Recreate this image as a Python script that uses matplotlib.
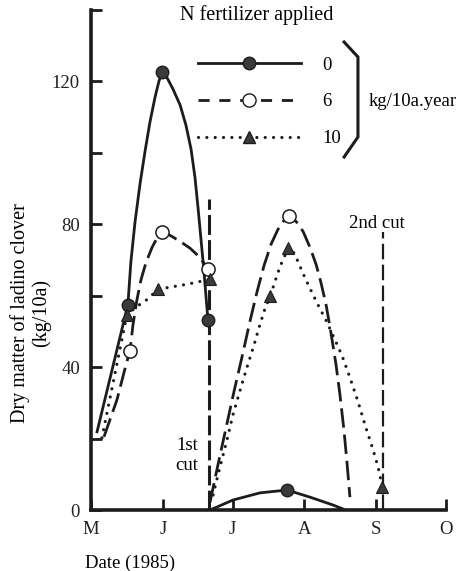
import matplotlib.pyplot as plt
from matplotlib.lines import Line2D

plt.rcParams["font.family"] = ["Liberation Serif", "DejaVu Serif"]
plt.rcParams["font.size"] = 13.5

# x axis: days counted from 1 May 1985
month_days = [0, 31, 61, 92, 123, 153]
month_labels = ["M", "J", "J", "A", "S", "O"]
dm_ticks = [0, 20, 40, 60, 80, 100, 120, 140]
dm_labels = ["0", "", "40", "", "80", "", "120", ""]

# cutting dates and the height of the cut markers
cut_days = [50.9, 125.9]
cut_tops = [87.0, 77.8]

# N = 0 kg/10a.year  (regrowth traced before and after the 1st cut)
n0_trace1_days = [2.6, 15.9, 17.2, 19.0, 21.1, 23.3, 25.4, 27.6, 29.3, 30.6,
                  32.8, 35.3, 38.4, 40.9, 43.1, 44.8, 46.1, 47.4, 48.7, 49.6, 50.4]
n0_trace1_dm = [21.9, 57.5, 69.6, 80.8, 91.2, 100.5, 108.6, 115.6, 120.1, 122.7,
                121.0, 117.9, 113.4, 107.8, 101.1, 93.2, 84.8, 75.8, 66.8, 59.5, 53.3]
n0_trace2_days = [51.3, 61.2, 72.8, 84.5, 94.4, 104.3, 108.6]
n0_trace2_dm = [0.0, 2.8, 4.8, 5.6, 3.6, 1.4, 0.3]
n0_obs_days = [15.9, 30.6, 50.4, 84.5]
n0_obs_dm = [57.5, 122.7, 53.3, 5.6]

# N = 6 kg/10a.year
n6_trace1_days = [5.6, 11.2, 15.1, 16.8, 18.1, 19.8, 21.6, 23.7, 26.3, 28.4, 30.6,
                  34.1, 38.4, 42.7, 47.0, 50.4]
n6_trace1_dm = [20.5, 30.9, 40.7, 44.6, 51.9, 58.9, 64.6, 69.3, 73.5, 76.1, 77.8,
                76.9, 75.2, 73.3, 70.7, 67.4]
n6_trace2_days = [51.3, 54.7, 58.2, 61.6, 65.1, 68.5, 71.6, 74.6, 77.6, 80.6, 83.2, 85.3,
                  88.4, 91.4, 94.4, 97.0, 99.1, 101.3, 103.4, 105.6, 107.3, 109.1, 110.3, 111.6]
n6_trace2_dm = [2.2, 12.6, 23.0, 33.1, 42.9, 52.8, 61.2, 68.5, 74.4, 78.6, 81.1, 82.2,
                80.8, 78.0, 73.5, 68.8, 63.7, 57.5, 49.7, 40.7, 32.3, 21.9, 13.5, 3.6]
n6_obs_days = [16.8, 30.6, 50.4, 85.3]
n6_obs_dm = [44.6, 77.8, 67.4, 82.2]

# N = 10 kg/10a.year
n10_trace1_days = [4.7, 15.5, 19.8, 24.1, 28.9, 33.2, 41.4, 51.3]
n10_trace1_dm = [20.2, 54.7, 57.0, 58.9, 61.8, 62.3, 63.2, 64.6]
n10_trace2_days = [52.6, 55.6, 58.6, 61.2, 64.2, 67.2, 70.3, 72.8, 75.0, 77.2, 79.3, 81.5, 83.6,
                   84.9, 87.1, 89.2, 91.4, 94.4, 97.8, 101.3, 104.7, 108.2, 111.6, 115.1,
                   118.5, 121.6, 123.7, 125.4]
n10_trace2_dm = [4.2, 12.1, 19.6, 26.7, 33.4, 39.9, 46.3, 51.9, 56.4, 59.8, 64.0, 68.2, 71.3,
                 73.5, 72.4, 69.6, 66.2, 62.0, 57.5, 53.1, 48.3, 43.2, 37.1, 30.3,
                 23.0, 16.8, 12.1, 7.0]
n10_obs_days = [15.5, 28.9, 51.3, 77.2, 84.9, 125.4]
n10_obs_dm = [54.7, 61.8, 64.6, 59.8, 73.5, 6.5]

ink = "#1c1c1c"
solid = dict(color=ink, lw=2.0, ls="-")
dashed = dict(color=ink, lw=2.0, ls=(0, (7, 2.5)))
dotted = dict(color=ink, lw=2.3, ls=(0, (0.01, 2.6)), dash_capstyle="round")

fig = plt.figure(figsize=(4.73, 5.71), dpi=100)
ax = fig.add_axes([0.1924, 0.1068, 0.7505, 0.8757])

# cut markers
ax.plot([cut_days[0]] * 2, [0, cut_tops[0]], color=ink, lw=2.2, ls=(0, (6.5, 1.7)), zorder=2)
ax.plot([cut_days[1]] * 2, [0, cut_tops[1]], color=ink, lw=1.6, ls=(0, (7, 2.4)), zorder=2)

ax.plot(n0_trace1_days, n0_trace1_dm, **solid, zorder=3)
ax.plot(n0_trace2_days, n0_trace2_dm, **solid, zorder=3)
ax.plot(n6_trace1_days, n6_trace1_dm, **dashed, zorder=3)
ax.plot(n6_trace2_days, n6_trace2_dm, **dashed, zorder=3)
ax.plot(n10_trace1_days, n10_trace1_dm, **dotted, zorder=3)
ax.plot(n10_trace2_days, n10_trace2_dm, **dotted, zorder=3)

ax.plot(n0_obs_days, n0_obs_dm, ls="none", marker="o", ms=9, mfc="#3a3a3a", mec=ink, mew=1.0, zorder=5)
ax.plot(n6_obs_days, n6_obs_dm, ls="none", marker="o", ms=9.5, mfc="white", mec=ink, mew=1.1, zorder=5)
ax.plot(n10_obs_days, n10_obs_dm, ls="none", marker="^", ms=8, mfc="#3a3a3a", mec=ink, mew=0.8, zorder=5)

ax.set_xlim(0, 153)
ax.set_ylim(0, 140)
ax.set_xticks(month_days)
ax.set_xticklabels(month_labels)
ax.set_yticks(dm_ticks)
ax.set_yticklabels(dm_labels)
ax.tick_params(axis="both", direction="in", length=8, width=2, color=ink, labelsize=13.5, labelcolor="#222")
ax.tick_params(axis="x", pad=8)
ax.tick_params(axis="y", pad=8)
for side in ["top", "right"]:
    ax.spines[side].set_visible(False)
for side in ["left", "bottom"]:
    ax.spines[side].set_linewidth(2.6)
    ax.spines[side].set_color(ink)

ax.set_ylabel("Dry matter of ladino clover\n(kg/10a)", fontsize=14.5, linespacing=1.1)
ax.yaxis.set_label_coords(-0.112, 0.394)
ax.set_xlabel("Date (1985)", fontsize=13.5)
ax.xaxis.set_label_coords(0.11, -0.09)

ax.text(41.4, 15.2, "1st\ncut", ha="center", va="center", fontsize=13.5, linespacing=1.2)
ax.text(123.0, cut_tops[1] + 2.5, "2nd cut", ha="center", va="center", fontsize=13.5)

# legend
ax.text(0.467, 0.99, "N fertilizer applied", transform=ax.transAxes, ha="center", va="center", fontsize=14.5)
handles = [
    Line2D([], [], **solid, marker="o", ms=9, mfc="#3a3a3a", mec=ink),
    Line2D([], [], color=ink, lw=2.0, ls=(0, (4, 3.5)), marker="o", ms=9.5, mfc="white", mec=ink),
    Line2D([], [], **dotted, marker="^", ms=8, mfc="#3a3a3a", mec=ink),
]
ax.legend(handles, ["0", "6", "10"], loc="upper left", bbox_to_anchor=(0.301, 0.907),
          frameon=False, borderpad=0, borderaxespad=0, handlelength=5.5, handletextpad=1.15,
          labelspacing=1.05, numpoints=1, fontsize=13.5)

brace_x = [0.713, 0.752, 0.752, 0.713]
brace_y = [0.936, 0.906, 0.746, 0.706]
ax.plot(brace_x, brace_y, transform=ax.transAxes, color=ink, lw=2.2, clip_on=False,
        solid_joinstyle="miter")
ax.text(0.781, 0.816, "kg/10a.year", transform=ax.transAxes, ha="left", va="center", fontsize=13.5)

fig.savefig("out.png", dpi=100)
